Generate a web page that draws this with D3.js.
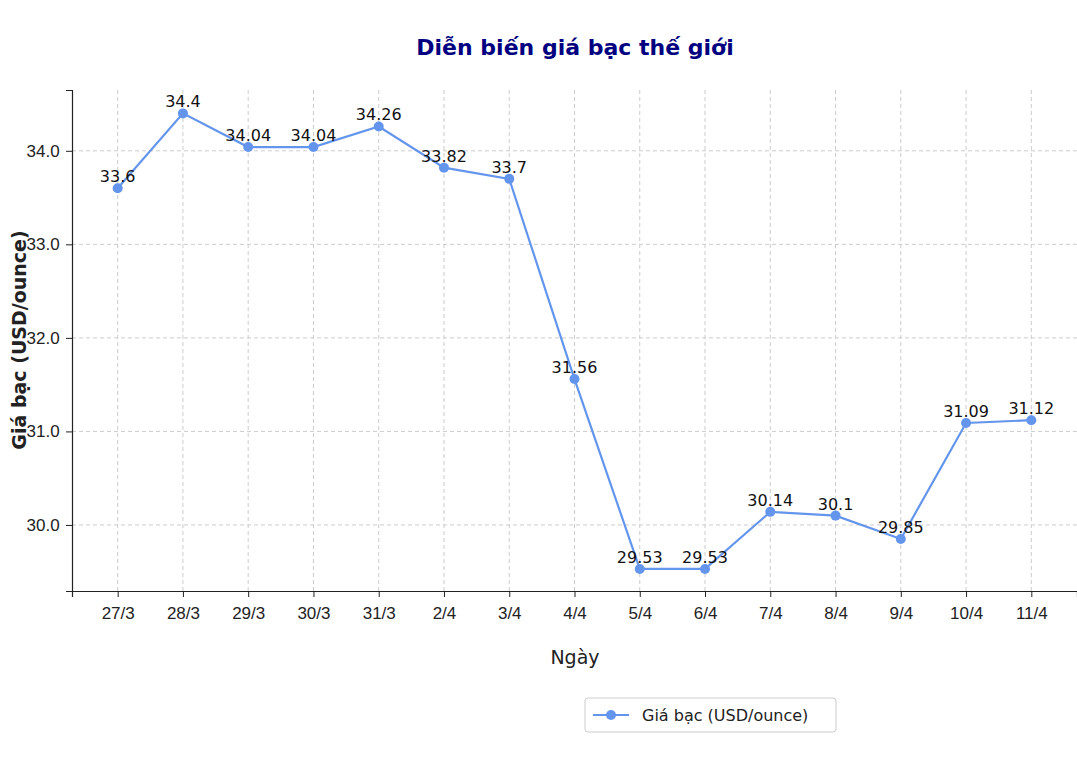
<!DOCTYPE html>
<html><head><meta charset="utf-8">
<script src="https://cdn.jsdelivr.net/npm/d3@7"></script>
<style>body{margin:0;background:#fff}svg{font-family:"DejaVu Sans",sans-serif}</style>
</head><body><div id="chart"></div>
<script>
'use strict';
// Data
const days = ['27/3','28/3','29/3','30/3','31/3','2/4','3/4','4/4','5/4','6/4','7/4','8/4','9/4','10/4','11/4']
const prices = [33.6,34.4,34.04,34.04,34.26,33.82,33.7,31.56,29.53,29.53,30.14,30.1,29.85,31.09,31.12]
const yTicks = [30,31,32,33,34]
const lineColor = '#6495ed'

const W = 1077, H = 779
const margin = {top: 90, right: 0, bottom: 188, left: 72}
const svg = d3.select('#chart').append('svg').attr('width', W).attr('height', H)
const x = d3.scaleLinear().domain([-0.7, days.length-1+0.7]).range([margin.left, W-margin.right])
const y = d3.scaleLinear().domain([29.294, 34.65]).range([H-margin.bottom, margin.top])

// grid
svg.append('g').selectAll('line').data(days).join('line')
    .attr('x1', (d,i) => x(i)).attr('x2', (d,i) => x(i))
    .attr('y1', y.range()[0]).attr('y2', y.range()[1])
    .attr('stroke', '#ccc').attr('stroke-dasharray', '4,3')
svg.append('g').selectAll('line').data(yTicks).join('line')
    .attr('x1', x.range()[0]).attr('x2', x.range()[1])
    .attr('y1', d => y(d)).attr('y2', d => y(d))
    .attr('stroke', '#ccc').attr('stroke-dasharray', '4,3')

// axes
const xAxis = svg.append('g').attr('transform', `translate(0,${y.range()[0]})`)
    .call(d3.axisBottom(x).tickValues(d3.range(days.length)).tickFormat(i => days[i]).tickSizeOuter(0).tickSize(6))
const yAxis = svg.append('g').attr('transform', `translate(${margin.left},0)`)
    .call(d3.axisLeft(y).tickValues(yTicks).tickSizeOuter(0).tickSize(6))
for (const a of [xAxis, yAxis]) {
    a.selectAll('text').attr('font-size', 17).attr('fill', '#222')
    a.select('.domain').attr('stroke', '#222').attr('stroke-width', 1.2)
    a.selectAll('.tick line').attr('stroke', '#222')
}
xAxis.selectAll('text').attr('dy', '1.1em')
yAxis.selectAll('text').attr('dx', '-0.2em')

// line
svg.append('path').datum(prices)
    .attr('d', d3.line().x((d,i) => x(i)).y(d => y(d)))
    .attr('fill', 'none').attr('stroke', lineColor).attr('stroke-width', 2.2)
svg.append('g').selectAll('circle').data(prices).join('circle')
    .attr('cx', (d,i) => x(i)).attr('cy', d => y(d)).attr('r', 5).attr('fill', lineColor)
svg.append('g').selectAll('text').data(prices).join('text')
    .attr('x', (d,i) => x(i)).attr('y', d => y(d)-6)
    .attr('text-anchor', 'middle').attr('font-size', 16).attr('fill', '#111')
    .text(d => d)

// titles
svg.append('text').attr('x', 575).attr('y', 55).attr('text-anchor', 'middle')
    .attr('font-size', 22).attr('font-weight', 'bold').attr('fill', '#000080')
    .text('Diễn biến giá bạc thế giới')
svg.append('text').attr('x', 575).attr('y', 664).attr('text-anchor', 'middle')
    .attr('font-size', 19).attr('fill', '#222').text('Ngày')
svg.append('text').attr('transform', 'translate(26,340) rotate(-90)').attr('text-anchor', 'middle')
    .attr('font-size', 19).attr('font-weight', 'bold').attr('fill', '#222').text('Giá bạc (USD/ounce)')

// legend
const lg = svg.append('g').attr('transform', 'translate(585,698)')
lg.append('rect').attr('width', 251).attr('height', 34).attr('rx', 3)
    .attr('fill', '#fff').attr('stroke', '#ccc')
lg.append('line').attr('x1', 8).attr('x2', 44).attr('y1', 17).attr('y2', 17)
    .attr('stroke', lineColor).attr('stroke-width', 2.2)
lg.append('circle').attr('cx', 26).attr('cy', 17).attr('r', 5).attr('fill', lineColor)
lg.append('text').attr('x', 57).attr('y', 23).attr('font-size', 16).attr('fill', '#222')
    .text('Giá bạc (USD/ounce)')
</script></body></html>
